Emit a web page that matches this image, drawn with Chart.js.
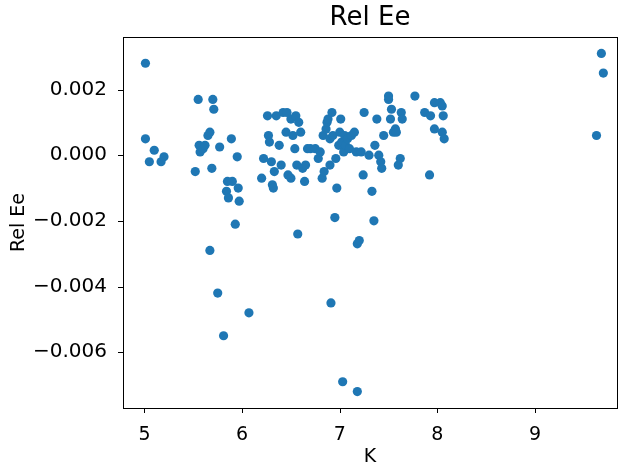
<!DOCTYPE html>
<html lang="en">
<head>
<meta charset="UTF-8">
<title>Rel Ee</title>
<script src="https://cdn.jsdelivr.net/npm/chart.js@4/dist/chart.umd.min.js"></script>
<style>
  body { margin: 0; background: #fff; }
  #wrap { width: 628px; height: 472px; }
</style>
</head>
<body>
<div id="wrap"><canvas id="c"></canvas></div>
<script>
// K values and Rel Ee values
const kVals = [5.01,5.01,5.05,5.1,5.17,5.2,
  5.52,5.55,5.56,5.57,5.6,5.62,5.65,5.67,5.67,5.7,5.71,5.69,5.75,5.77,5.81,5.84,5.85,5.86,5.89,5.9,5.93,5.95,5.96,5.97,6.07,
  6.2,6.22,6.26,6.27,6.28,6.3,6.31,6.32,6.33,6.35,6.38,6.4,6.42,6.45,6.46,6.47,6.5,6.5,6.52,6.55,6.54,6.56,6.57,6.58,6.6,6.62,6.64,6.65,6.67,6.7,6.75,6.78,6.8,6.82,6.83,6.84,6.86,6.87,6.88,6.9,6.9,6.91,6.92,6.93,6.95,6.96,6.97,6.99,
  7.0,7.01,7.02,7.03,7.04,7.05,7.06,7.08,7.1,7.12,7.15,7.17,7.18,7.18,7.2,7.22,7.24,7.25,7.3,7.33,7.35,7.36,7.38,7.4,7.42,7.43,7.45,7.5,7.5,7.52,7.53,7.55,7.57,7.58,7.6,7.62,7.63,7.64,
  7.77,7.87,7.92,7.93,7.97,8.03,8.05,8.06,8.07,7.97,8.05,9.63,9.68,9.7];
const relEe = [0.0028,0.0005,-0.0002,0.00015,-0.0002,-0.00005,
  -0.0005,0.0017,0.0003,0.0001,0.0002,0.0003,0.0006,0.0007,-0.0029,0.0017,0.0014,-0.0004,-0.0042,0.00025,-0.0055,-0.0011,-0.0008,-0.0013,0.0005,-0.0008,-0.0021,-0.00005,-0.0010,-0.0014,-0.0048,
  -0.0007,-0.0001,0.0012,0.0006,0.0004,-0.0002,-0.0009,-0.0010,-0.0005,0.0012,0.0003,-0.0003,0.0013,0.0007,0.0013,-0.0006,0.0011,-0.0007,0.0006,0.0012,0.0002,-0.0003,-0.0024,0.0010,0.0007,-0.0004,-0.0008,-0.0003,0.0002,0.0002,0.0002,-0.0001,0.0001,-0.0007,0.0006,-0.0005,0.0008,0.0010,0.0011,0.0005,-0.0003,-0.0045,0.0013,0.0006,-0.0019,-0.0001,-0.0010,0.0003,
  0.0007,0.0011,0.0004,-0.0069,0.0001,0.0006,0.0003,0.0005,0.0002,0.0006,0.0007,0.0001,-0.0072,-0.0027,-0.0026,0.0001,-0.0006,0.0013,0.0,-0.0011,-0.0020,0.0003,0.0011,0.0,-0.0002,-0.0004,0.0006,0.0017,0.0018,0.0011,0.0014,0.0007,0.0008,0.0007,-0.0003,-0.0001,0.0013,0.0011,
  0.0018,0.0013,-0.0006,0.0012,0.0016,0.0016,0.0007,0.0012,0.0005,0.0008,0.0015,0.0006,0.0031,0.0025];
const xTicks = [5, 6, 7, 8, 9];
const yTicks = [-0.006, -0.004, -0.002, 0, 0.002];

const points = kVals.map((k, i) => ({ x: k, y: relEe[i] }));

// box, outward tick marks and title, matplotlib style
const frame = {
  id: 'frame',
  afterDraw(chart) {
    const { ctx, chartArea: a, scales } = chart;
    ctx.save();
    ctx.strokeStyle = '#000';
    ctx.lineWidth = 1;
    ctx.strokeRect(a.left + 0.5, a.top + 0.5, a.right - a.left, a.bottom - a.top);
    ctx.beginPath();
    xTicks.forEach(v => {
      const px = Math.round(scales.x.getPixelForValue(v)) + 0.5;
      ctx.moveTo(px, a.bottom); ctx.lineTo(px, a.bottom + 5);
    });
    yTicks.forEach(v => {
      const py = Math.round(scales.y.getPixelForValue(v)) + 0.5;
      ctx.moveTo(a.left, py); ctx.lineTo(a.left - 5, py);
    });
    ctx.stroke();
    ctx.fillStyle = '#000';
    ctx.font = '26px "DejaVu Sans"';
    ctx.textAlign = 'center';
    ctx.textBaseline = 'bottom';
    ctx.fillText('Rel Ee', (a.left + a.right) / 2, a.top - 6);
    ctx.restore();
  }
};

Chart.defaults.font.family = '"DejaVu Sans", sans-serif';
Chart.defaults.color = '#000';

new Chart(document.getElementById('c'), {
  type: 'scatter',
  data: { datasets: [{ data: points, backgroundColor: '#1f77b4', borderWidth: 0, pointRadius: 4.6 }] },
  options: {
    responsive: true,
    maintainAspectRatio: false,
    animation: false,
    layout: { padding: { top: 37, right: 11, left: 8, bottom: 0 } },
    plugins: { legend: { display: false }, tooltip: { enabled: false } },
    scales: {
      x: {
        min: 4.78, max: 9.84,
        afterBuildTicks: s => { s.ticks = xTicks.map(v => ({ value: v })); },
        afterFit: s => { s.height = 64; },
        grid: { display: false },
        border: { display: false },
        ticks: { font: { size: 19 }, padding: 8, callback: v => String(v) },
        title: { display: true, text: 'K', font: { size: 19 }, padding: { top: 0 } }
      },
      y: {
        min: -0.0077, max: 0.0036,
        afterBuildTicks: s => { s.ticks = yTicks.map(v => ({ value: v })); },
        afterFit: s => { s.width = 115; },
        grid: { display: false },
        border: { display: false },
        ticks: { font: { size: 20 }, padding: 8, callback: v => (v < 0 ? '\u2212' : '') + Math.abs(v).toFixed(3) },
        title: { display: true, text: 'Rel Ee', font: { size: 19 }, padding: 0 }
      }
    }
  },
  plugins: [frame]
});
</script>
</body>
</html>
